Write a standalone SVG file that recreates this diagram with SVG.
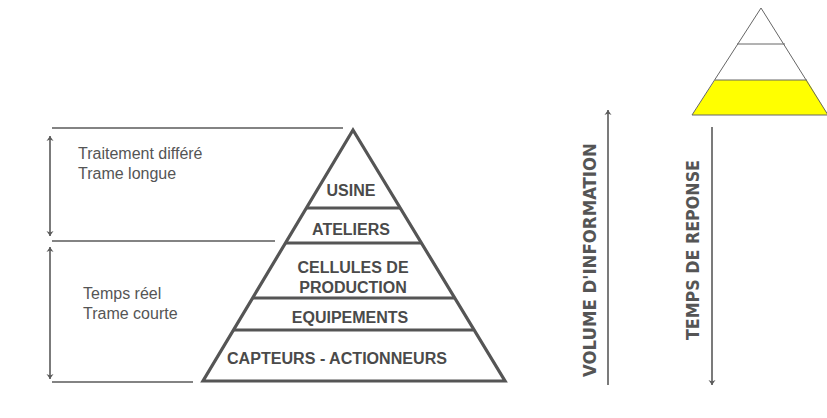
<svg xmlns="http://www.w3.org/2000/svg" width="827" height="418" viewBox="0 0 827 418">
<style>
.rule{stroke:#5a5a5a;stroke-width:1.6;fill:none}
.arr{stroke:#5a5a5a;stroke-width:1.6;fill:none}
.pyr{stroke:#555;stroke-width:3.2;fill:none;stroke-linejoin:miter}
.lvl{font-family:"Liberation Sans",Arial,sans-serif;font-weight:bold;font-size:16px;fill:#4a4a4a;text-anchor:middle}
.note{font-family:"Liberation Sans",Arial,sans-serif;font-size:16px;fill:#555}
.vert{font-family:"DejaVu Sans Condensed","DejaVu Sans",sans-serif;font-weight:bold;font-size:17px;fill:#555;text-anchor:middle}
.mini{stroke:#666;stroke-width:1;}
</style>
<defs>
<marker id="ah" viewBox="0 0 10 20" refX="10" refY="10" markerWidth="6" markerHeight="10" markerUnits="userSpaceOnUse" orient="auto-start-reverse">
<path d="M0,3 L10,10 L0,17 L3,10 Z" fill="#5a5a5a"/>
</marker>
</defs>
<rect width="827" height="418" fill="#ffffff"/>

<g id="connectors">
<line class="rule" x1="52" y1="128" x2="343" y2="128"/>
<line class="rule" x1="52" y1="241" x2="275" y2="241"/>
<line class="rule" x1="52" y1="382" x2="193" y2="382"/>
<line class="arr" x1="50" y1="136" x2="50" y2="236" marker-start="url(#ah)" marker-end="url(#ah)"/>
<line class="arr" x1="50" y1="247" x2="50" y2="379" marker-start="url(#ah)" marker-end="url(#ah)"/>
<line class="arr" x1="608" y1="385" x2="608" y2="110" marker-end="url(#ah)"/>
<line class="arr" x1="712" y1="127" x2="712" y2="385" marker-end="url(#ah)"/>
</g>

<g id="pyramid">
<path class="pyr" d="M353,130 L203,381 L505,381 Z"/>
<line class="pyr" x1="306" y1="208" x2="400" y2="208"/>
<line class="pyr" x1="285" y1="243" x2="421" y2="243"/>
<line class="pyr" x1="252" y1="298" x2="454" y2="298"/>
<line class="pyr" x1="233" y1="330" x2="473" y2="330"/>
</g>
<g id="usine"><text class="lvl" x="351" y="196">USINE</text></g>
<g id="ateliers"><text class="lvl" x="351" y="235">ATELIERS</text></g>
<g id="cellules"><text class="lvl" x="353" y="273">CELLULES DE</text><text class="lvl" x="353" y="293">PRODUCTION</text></g>
<g id="equipements"><text class="lvl" x="350" y="323">EQUIPEMENTS</text></g>
<g id="capteurs"><text class="lvl" x="337" y="364" textLength="220" lengthAdjust="spacingAndGlyphs">CAPTEURS - ACTIONNEURS</text></g>

<g id="differe">
<text class="note" x="78" y="159">Traitement différé</text>
<text class="note" x="78" y="179">Trame longue</text>
</g>
<g id="reel">
<text class="note" x="83" y="299">Temps réel</text>
<text class="note" x="83" y="319">Trame courte</text>
</g>

<g id="volume"><text class="vert" transform="translate(596,260) rotate(-90)" textLength="234" lengthAdjust="spacingAndGlyphs">VOLUME D'INFORMATION</text></g>
<g id="temps"><text class="vert" transform="translate(699,250) rotate(-90)" textLength="180" lengthAdjust="spacingAndGlyphs">TEMPS DE REPONSE</text></g>

<g id="mini-pyramid">
<path d="M715,80 L807,80 L828,115 L692,115 Z" fill="#ffff00"/>
<path class="mini" fill="none" d="M761,8 L692,115 L828,115 Z"/>
<line class="mini" x1="737" y1="44" x2="785" y2="44"/>
<line class="mini" x1="715" y1="80" x2="807" y2="80"/>
</g>
</svg>
